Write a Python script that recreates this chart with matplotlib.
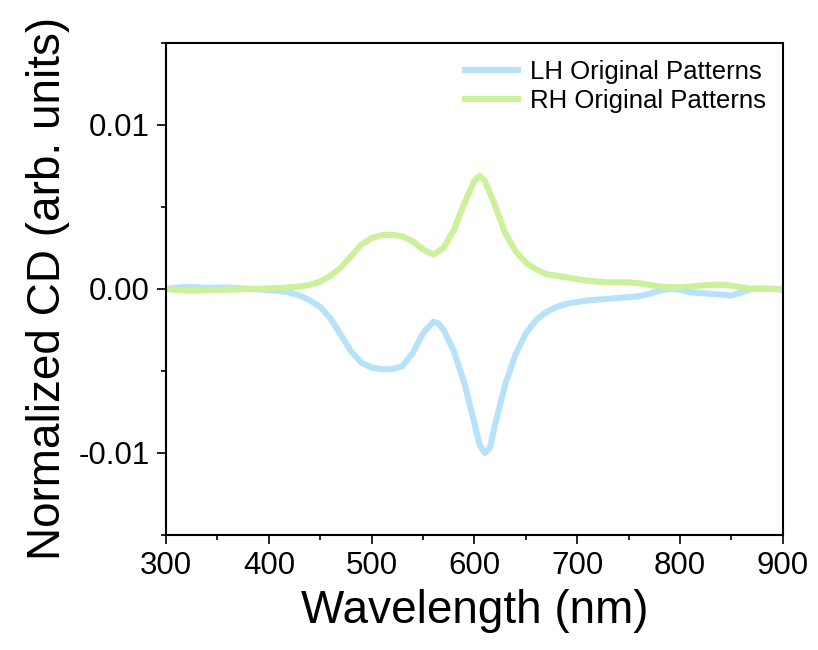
import matplotlib

matplotlib.use("Agg")

import matplotlib.pyplot as plt
from matplotlib.ticker import MultipleLocator

# Espectros de CD normalizados (nm, unidades arbitrárias)
wl_lh = [300, 310, 320, 330, 340, 350, 360, 370, 380, 390, 400, 410, 420, 430,
         440, 450, 460, 470, 480, 490, 500, 510, 520, 530, 540, 550, 560, 565,
         570, 580, 590, 600, 605, 610, 615, 620, 630, 640, 650, 660, 670, 680,
         690, 700, 710, 720, 730, 740, 750, 760, 770, 780, 790, 800, 810, 820,
         830, 840, 850, 860, 870, 880, 890, 900]
cd_lh = [0.0, 0.00008, 0.00012, 0.0001, 0.00007, 0.00008, 0.00008, 0.00005,
         0.0, -0.00003, -0.00007, -0.00012, -0.00022, -0.0004, -0.0007, -0.0011,
         -0.0018, -0.0028, -0.0038, -0.0045, -0.0048, -0.0049, -0.0049, -0.0047,
         -0.0039, -0.0027, -0.0020, -0.0021, -0.0025, -0.0038, -0.0057, -0.0082,
         -0.0095, -0.0100, -0.0097, -0.0083, -0.0058, -0.0040, -0.0027, -0.0019,
         -0.0014, -0.0011, -0.0009, -0.0008, -0.0007, -0.00065, -0.0006,
         -0.00055, -0.0005, -0.00045, -0.0003, -0.0001, 0.0, -0.00005, -0.0002,
         -0.00025, -0.0003, -0.00035, -0.0004, -0.0002, 0.0, 0.00003, 0.0,
         -0.00005]

wl_rh = [300, 310, 320, 330, 340, 350, 360, 370, 380, 390, 400, 410, 420, 430,
         440, 450, 460, 470, 480, 490, 500, 510, 520, 530, 540, 550, 560, 570,
         580, 590, 600, 605, 610, 620, 630, 640, 650, 660, 670, 680, 690, 700,
         710, 720, 730, 740, 750, 760, 770, 780, 790, 800, 810, 820, 830, 840,
         850, 860, 870, 880, 890, 900]
cd_rh = [0.0, -0.00005, -0.0001, -0.0001, -0.00007, -0.00005, -0.00005,
         -0.00003, 0.0, 0.0, 0.00003, 0.00005, 0.0001, 0.00015, 0.00025,
         0.00045, 0.0008, 0.0013, 0.0020, 0.0027, 0.0031, 0.00328, 0.0033,
         0.0032, 0.0029, 0.0024, 0.0021, 0.0025, 0.0036, 0.0052, 0.0066, 0.0069,
         0.0066, 0.0051, 0.0034, 0.0023, 0.0016, 0.0012, 0.0009, 0.0008, 0.0007,
         0.0006, 0.0005, 0.00045, 0.0004, 0.0004, 0.0004, 0.00035, 0.00025,
         0.00015, 0.0001, 0.0001, 0.00015, 0.0002, 0.00025, 0.00025, 0.0002,
         0.0001, 0.0, 0.0, 0.0, 0.0]

labels = ["LH Original Patterns", "RH Original Patterns"]
cores = ["#b8e2fa", "#cdf09a"]

plt.rcParams["font.family"] = ["Liberation Sans", "DejaVu Sans"]

fig = plt.figure(figsize=(8.18, 6.5), dpi=100)
ax = fig.add_axes([0.203, 0.177, 0.754, 0.757])

ax.plot(wl_lh, cd_lh, color=cores[0], linewidth=4.4, label=labels[0],
        solid_joinstyle="round", solid_capstyle="butt")
ax.plot(wl_rh, cd_rh, color=cores[1], linewidth=4.4, label=labels[1],
        solid_joinstyle="round", solid_capstyle="butt")

ax.set_xlim(300, 900)
ax.set_ylim(-0.015, 0.015)
ax.xaxis.set_major_locator(MultipleLocator(100))
ax.xaxis.set_minor_locator(MultipleLocator(50))
ax.yaxis.set_major_locator(MultipleLocator(0.01))
ax.yaxis.set_minor_locator(MultipleLocator(0.005))
ax.set_yticks([-0.01, 0.0, 0.01])
ax.set_yticklabels(["-0.01", "0.00", "0.01"])

ax.tick_params(which="major", direction="out", length=6.5, width=1.2,
               labelsize=22.5, pad=5)
ax.tick_params(which="minor", direction="out", length=3.5, width=1.2)
for lado in ax.spines.values():
    lado.set_linewidth(1.5)

ax.set_xlabel("Wavelength (nm)", fontsize=33, labelpad=6)
ax.set_ylabel("Normalized CD (arb. units)", fontsize=33, labelpad=6)

ax.legend(loc="upper right", frameon=False, fontsize=18.5, handlelength=2.3,
          handletextpad=0.35, labelspacing=0.2, borderaxespad=0.25)

fig.savefig("out.png", dpi=100)
